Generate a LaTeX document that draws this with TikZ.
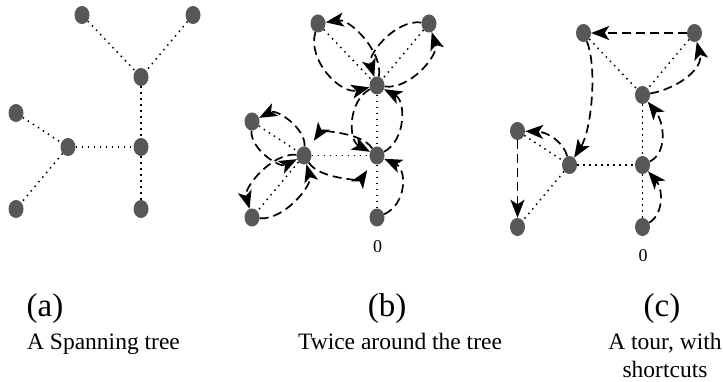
\documentclass[tikz,border=0pt]{standalone}
\usepackage{fontspec}
\setmainfont{Liberation Serif}
\usetikzlibrary{shapes.geometric,arrows.meta,calc}

\tikzset{
  vtx/.style={ellipse, minimum width=15pt, minimum height=18pt, inner sep=0pt, fill=black!66},
  treeedge/.style={line width=1.5pt, dash pattern=on 1.5pt off 4.5pt},
  tourarc/.style={line width=1.7pt, dash pattern=on 9pt off 5pt,
    -{Stealth[length=18pt,width=14pt,inset=4.5pt]}},
  panelmark/.style={font=\fontsize{33}{36}\selectfont, inner sep=0pt, anchor=base},
  caption/.style={font=\fontsize{23.5}{28}\selectfont, inner sep=0pt, anchor=base, align=center},
  rootmark/.style={font=\fontsize{18}{20}\selectfont, inner sep=0pt},
}

% the spanning tree: eight vertices and seven dotted edges, names prefixed by #1
\newcommand{\spantree}[1]{%
  \node[vtx] (#11) at (82,15) {};
  \node[vtx] (#12) at (193,15) {};
  \node[vtx] (#13) at (141,77) {};
  \node[vtx] (#14) at (16,113) {};
  \node[vtx] (#15) at (68,147) {};
  \node[vtx] (#16) at (141,147) {};
  \node[vtx] (#17) at (16,209) {};
  \node[vtx] (#18) at (141,209) {};
  \draw[treeedge] (#11) -- (#13);
  \draw[treeedge] (#12) -- (#13);
  \draw[treeedge] (#13) -- (#16);
  \draw[treeedge] (#14) -- (#15);
  \draw[treeedge] (#15) -- (#16);
  \draw[treeedge] (#15) -- (#17);
  \draw[treeedge] (#16) -- (#18);
}

% a dashed arc from #2 to #3 bulging by #4 to the right of the walking direction
\newcommand{\lensarc}[4][]{%
  \draw[tourarc,#1] (#2) .. controls ($(#2)!0.22!(#3)!#4!-90:(#3)$)
    and ($(#2)!0.78!(#3)!#4!-90:(#3)$) .. (#3);
}

\begin{document}
\begin{tikzpicture}[x=1pt,y=-1pt]
\useasboundingbox (0,0) rectangle (723,382);

% (a) the spanning tree
\spantree{a}

% (b) walking twice around the tree
\begin{scope}[shift={(236,8.5)}]
  \spantree{b}
  \node[rootmark] (b0) at (141.5,238) {0};
  \lensarc{b8}{b6}{30pt}
  \lensarc{b6}{b3}{29pt}
  \lensarc{b3}{b2}{28pt}
  \lensarc{b2}{b3}{28pt}
  \lensarc{b3}{b1}{27pt}
  \lensarc{b1}{b3}{33pt}
  \lensarc{b3}{b6}{29pt}
  \lensarc[shorten >=9pt]{b6}{b5}{24pt}
  \lensarc{b5}{b4}{24pt}
  \lensarc{b4}{b5}{24pt}
  \lensarc{b5}{b7}{26pt}
  \lensarc{b7}{b5}{26pt}
  \lensarc[shorten >=9pt]{b5}{b6}{24pt}
\end{scope}

% (c) the tour with shortcuts
\begin{scope}[shift={(501.5,18)}]
  \spantree{c}
  \node[rootmark] (c0) at (141.5,238) {0};
  \draw[tourarc] (c8) .. controls (163,195) and (161,170) .. (c6);
  \draw[tourarc] (c6) .. controls (166,135) and (163,105) .. (c3);
  \draw[tourarc] (c3) .. controls (178,70) and (202,50) .. (c2);
  \draw[tourarc] (c2) -- (c1);
  \draw[tourarc] (c1) .. controls (96,50) and (90,112) .. (c5);
  \draw[tourarc] (c5) .. controls (62,124) and (46,114) .. (c4);
  \draw[tourarc] (c4) -- (c7);
\end{scope}

% panel captions
\node[panelmark] (la) at (45,316) {(a)};
\node[caption] (ca) at (103.5,349) {A Spanning tree};
\node[panelmark] (lb) at (387,316) {(b)};
\node[caption] (cb) at (400,349) {Twice around the tree};
\node[panelmark] (lc) at (662,316) {(c)};
\node[caption] (cc) at (665,377) {A tour, with\\shortcuts};
\end{tikzpicture}
\end{document}
